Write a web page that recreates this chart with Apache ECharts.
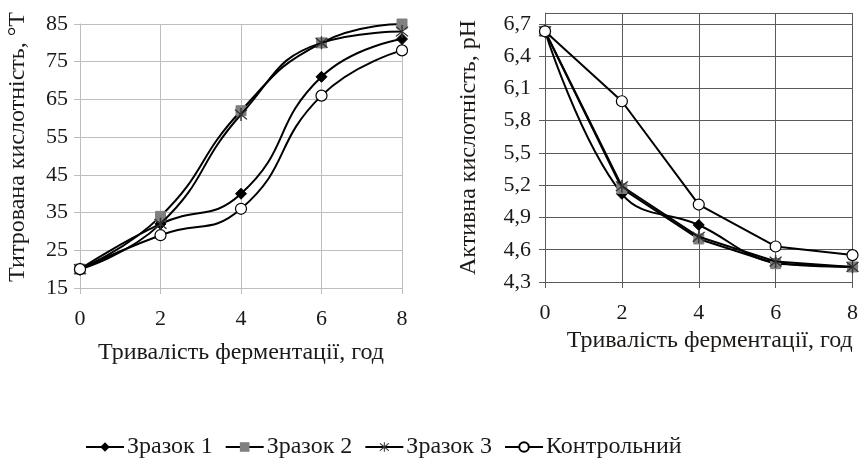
<!DOCTYPE html>
<html>
<head>
<meta charset="utf-8">
<script src="https://cdn.jsdelivr.net/npm/echarts@6/dist/echarts.min.js"></script>
<style>
  html, body { margin: 0; padding: 0; background: #fff; }
  #chart { width: 861px; height: 459px; }
</style>
</head>
<body>
<div id="chart"></div>
<script>
// тривалість ферментації, год
const hours = [0, 2, 4, 6, 8]
const seriesNames = ['Зразок 1', 'Зразок 2', 'Зразок 3', 'Контрольний']

// титрована кислотність, °T
const titr1 = [20, 32, 40, 71, 81]
const titr2 = [20, 34, 62, 80, 85]
const titr3 = [20, 32, 61, 80, 83]
const titrCtrl = [20, 29, 36, 66, 78]

// активна кислотність, pH
const ph1 = [6.63, 5.12, 4.83, 4.48, 4.44]
const ph2 = [6.63, 5.17, 4.70, 4.47, 4.44]
const ph3 = [6.63, 5.19, 4.72, 4.49, 4.44]
const phCtrl = [6.63, 5.98, 5.02, 4.63, 4.55]

const font = 'Liberation Serif'
const textColor = '#1c1917'
const star = 'path://M-0.9,-10 L0.9,-10 L0.9,10 L-0.9,10 Z M-8.2,-6.9 L-6.9,-8.2 L8.2,6.9 L6.9,8.2 Z M6.9,-8.2 L8.2,-6.9 L-6.9,8.2 L-8.2,6.9 Z'

const markers = [
    { symbol: 'diamond', symbolSize: 11, itemStyle: { color: '#000', borderColor: '#000' } },
    { symbol: 'rect', symbolSize: 10, itemStyle: { color: '#808080', borderColor: '#808080' } },
    { symbol: star, symbolSize: 13, itemStyle: { color: '#333', borderColor: '#333', borderWidth: 0 } },
    { symbol: 'circle', symbolSize: 11, itemStyle: { color: '#fff', borderColor: '#000', borderWidth: 1.2 } }
]

function zip(ys) {
    return hours.map((h, i) => [h, ys[i]])
}

function makeSeries(data, axisIdx, smooth) {
    return data.map((ys, i) => Object.assign({
        name: seriesNames[i],
        type: 'line',
        xAxisIndex: axisIdx,
        yAxisIndex: axisIdx,
        data: zip(ys),
        smooth: smooth[i],
        lineStyle: { color: '#000', width: 2 },
        emphasis: { disabled: true },
        z: 2 + i
    }, markers[i]))
}

const chart = echarts.init(document.getElementById('chart'), null, { renderer: 'canvas' })

const axisBase = (gridColor, labelMargin) => ({
    axisLine: { show: true, lineStyle: { color: gridColor, width: 1 } },
    axisTick: { show: true, length: 6, lineStyle: { color: gridColor } },
    splitLine: { show: true, lineStyle: { color: gridColor, width: 1 } },
    axisLabel: { color: textColor, fontFamily: font, fontSize: 22, margin: labelMargin },
    nameTextStyle: { color: textColor, fontFamily: font, fontSize: 24 }
})

chart.setOption({
    animation: false,
    textStyle: { fontFamily: font },
    grid: [
        { left: 80, right: 459, top: 24, bottom: 171 },
        { left: 545, right: 7, top: 13, bottom: 177 }
    ],
    legend: {
        data: seriesNames,
        left: 80,
        top: 430,
        itemWidth: 38,
        itemHeight: 12,
        itemGap: 12,
        textStyle: { color: textColor, fontFamily: font, fontSize: 24, padding: [0, 0, 0, -2] }
    },
    xAxis: [
        Object.assign(axisBase('#bdbdbd', 20), {
            gridIndex: 0, type: 'value', min: 0, max: 8, interval: 2,
            name: 'Тривалість ферментації, год', nameLocation: 'middle', nameGap: 53
        }),
        Object.assign(axisBase('#5a5a5a', 20), {
            gridIndex: 1, type: 'value', min: 0, max: 8, interval: 2,
            name: 'Тривалість ферментації, год', nameLocation: 'middle', nameGap: 45,
            nameTextStyle: { color: textColor, fontFamily: font, fontSize: 24, padding: [0, 0, 0, 22] }
        })
    ],
    yAxis: [
        Object.assign(axisBase('#bdbdbd', 12), {
            gridIndex: 0, type: 'value', min: 15, max: 85, interval: 10,
            name: 'Титрована кислотність, °T', nameLocation: 'middle', nameGap: 50,
            nameTextStyle: { color: textColor, fontFamily: font, fontSize: 24, padding: [0, 0, 0, 18] }
        }),
        Object.assign(axisBase('#5a5a5a', 14), {
            gridIndex: 1, type: 'value', min: 4.3, max: 6.8, interval: 0.3,
            name: 'Активна кислотність, pH', nameLocation: 'middle', nameGap: 64,
            axisLabel: {
                color: textColor, fontFamily: font, fontSize: 22, margin: 14,
                showMaxLabel: false,
                formatter: v => v.toFixed(1).replace('.', ',')
            }
        })
    ],
    series: [
        ...makeSeries([titr1, titr2, titr3, titrCtrl], 0, [0.5, 0.5, 0.5, 0.5]),
        ...makeSeries([ph1, ph2, ph3, phCtrl], 1, [0.4, false, false, false])
    ]
})
</script>
</body>
</html>
